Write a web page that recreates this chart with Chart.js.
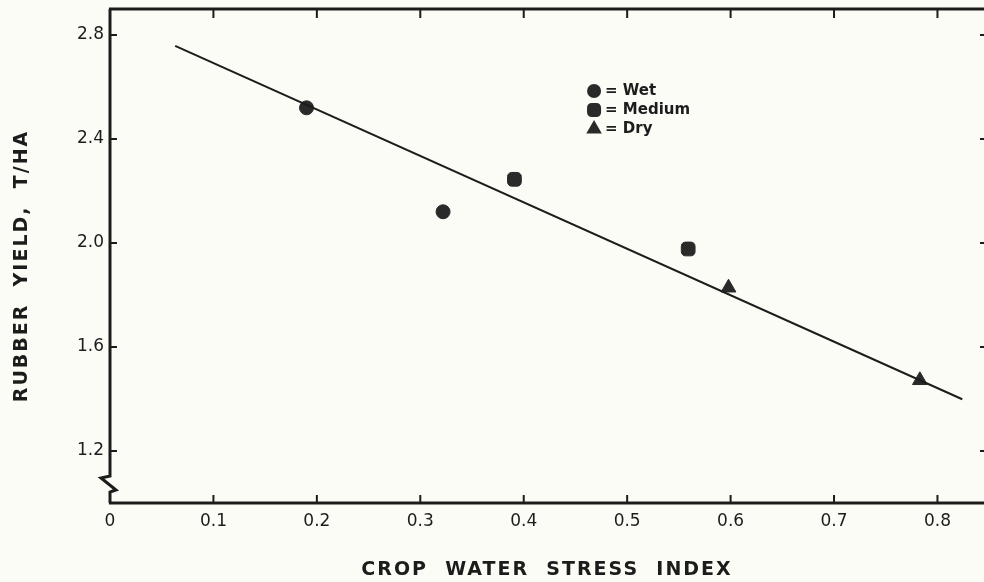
<!DOCTYPE html>
<html>
<head>
<meta charset="utf-8">
<script src="https://cdn.jsdelivr.net/npm/chart.js@4.4.0/dist/chart.umd.min.js"></script>
<style>
  html, body { margin: 0; padding: 0; background: #fcfcf6; }
  #wrap { width: 984px; height: 582px; }
</style>
</head>
<body>
<div id="wrap"><canvas id="chart" width="984" height="582"></canvas></div>
<script>
// values
const xTicks = [0, 0.1, 0.2, 0.3, 0.4, 0.5, 0.6, 0.7, 0.8]
const yTicks = [1.2, 1.6, 2.0, 2.4, 2.8]

const wetX = [0.19, 0.322]
const wetY = [2.52, 2.12]
const mediumX = [0.391, 0.559]
const mediumY = [2.245, 1.977]
const dryX = [0.598, 0.783]
const dryY = [1.828, 1.472]
const fitX = [0.063, 0.824]
const fitY = [2.758, 1.399]

const ink = '#1c1c1c'
const font = '"DejaVu Sans", sans-serif'

function pts(xs, ys) {
    return xs.map((x, i) => ({x: x, y: ys[i]}))
}

// frame, inward ticks, axis break, legend and axis titles
const paper = {
    id: 'paper',
    beforeDraw(chart) {
        const ctx = chart.ctx
        ctx.save()
        ctx.fillStyle = '#fcfcf6'
        ctx.fillRect(0, 0, chart.width, chart.height)
        ctx.restore()
    },
    afterDatasetsDraw(chart) {
        const ctx = chart.ctx
        const a = chart.chartArea
        const xs = chart.scales.x
        const ys = chart.scales.y
        ctx.save()
        ctx.strokeStyle = ink
        ctx.lineCap = 'butt'

        // top and bottom lines
        ctx.lineWidth = 3
        ctx.beginPath()
        ctx.moveTo(a.left - 1, a.top)
        ctx.lineTo(a.right, a.top)
        ctx.moveTo(a.left - 1, a.bottom)
        ctx.lineTo(a.right, a.bottom)
        ctx.stroke()

        // left line with break
        ctx.beginPath()
        ctx.moveTo(a.left, a.top)
        ctx.lineTo(a.left, a.bottom - 27)
        ctx.lineTo(a.left - 9, a.bottom - 25)
        ctx.lineTo(a.left + 6, a.bottom - 13)
        ctx.lineTo(a.left, a.bottom - 11)
        ctx.lineTo(a.left, a.bottom)
        ctx.stroke()

        // ticks
        ctx.lineWidth = 2
        ctx.beginPath()
        xTicks.forEach((v) => {
            const px = xs.getPixelForValue(v)
            if (v > 0) {
                ctx.moveTo(px, a.top)
                ctx.lineTo(px, a.top + 9)
                ctx.moveTo(px, a.bottom)
                ctx.lineTo(px, a.bottom - 8)
            }
        })
        yTicks.forEach((v) => {
            const py = ys.getPixelForValue(v)
            ctx.moveTo(a.left, py)
            ctx.lineTo(a.left + 7, py)
            ctx.moveTo(a.right, py)
            ctx.lineTo(a.right - 4, py)
        })
        ctx.stroke()

        // legend
        const lx = xs.getPixelForValue(0.468)
        const rows = [
            {style: 'circle', r: 6, text: '= Wet'},
            {style: 'rectRounded', r: 7, text: '= Medium'},
            {style: 'triangle', r: 7, text: '= Dry'},
        ]
        ctx.font = 'bold 15px ' + font
        ctx.textBaseline = 'middle'
        ctx.textAlign = 'left'
        rows.forEach((row, i) => {
            const ly = a.top + 82 + i * 19
            ctx.fillStyle = '#2a2a2a'
            ctx.strokeStyle = '#2a2a2a'
            Chart.helpers.drawPoint(ctx, {pointStyle: row.style, radius: row.r, rotation: 0, borderWidth: 1}, lx, ly)
            ctx.fillStyle = ink
            ctx.fillText(row.text, lx + 11, ly)
        })

        // axis titles
        ctx.fillStyle = ink
        ctx.font = 'bold 19px ' + font
        ctx.letterSpacing = '2px'
        ctx.textAlign = 'center'
        ctx.textBaseline = 'middle'
        ctx.fillText('CROP  WATER  STRESS  INDEX', (a.left + a.right) / 2, 570)
        ctx.translate(22, (a.top + a.bottom) / 2 + 10)
        ctx.rotate(-Math.PI / 2)
        ctx.fillText('RUBBER  YIELD,  T/HA', 0, 0)
        ctx.restore()
    }
}

new Chart(document.getElementById('chart'), {
    type: 'scatter',
    data: {
        datasets: [
            {
                type: 'line',
                label: 'fit',
                data: pts(fitX, fitY),
                borderColor: ink,
                borderWidth: 2,
                pointRadius: 0,
                fill: false,
                tension: 0,
            },
            {
                label: 'Wet',
                data: pts(wetX, wetY),
                pointStyle: 'circle',
                pointRadius: 7,
                backgroundColor: '#2a2a2a',
                borderColor: '#2a2a2a',
            },
            {
                label: 'Medium',
                data: pts(mediumX, mediumY),
                pointStyle: 'rectRounded',
                pointRadius: 8,
                backgroundColor: '#2a2a2a',
                borderColor: '#2a2a2a',
            },
            {
                label: 'Dry',
                data: pts(dryX, dryY),
                pointStyle: 'triangle',
                pointRadius: 8.5,
                backgroundColor: '#2a2a2a',
                borderColor: '#2a2a2a',
            },
        ]
    },
    options: {
        responsive: false,
        animation: false,
        layout: {autoPadding: false, padding: {top: 9, right: 0, bottom: 0, left: 0}},
        plugins: {
            legend: {display: false},
            tooltip: {enabled: false},
        },
        scales: {
            x: {
                type: 'linear',
                min: 0,
                max: 0.845,
                afterBuildTicks: (s) => { s.ticks = xTicks.map((v) => ({value: v})) },
                afterFit: (s) => { s.height = 79; s.paddingLeft = 0; s.paddingRight = 0 },
                grid: {display: false, drawTicks: false},
                border: {display: false},
                ticks: {
                    padding: 8,
                    color: ink,
                    font: {family: font, size: 17},
                    callback: (v) => v === 0 ? '0' : v.toFixed(1),
                },
            },
            y: {
                type: 'linear',
                min: 1.0,
                max: 2.9,
                afterBuildTicks: (s) => { s.ticks = yTicks.map((v) => ({value: v})) },
                afterFit: (s) => { s.width = 110; s.paddingTop = 0; s.paddingBottom = 0 },
                grid: {display: false, drawTicks: false},
                border: {display: false},
                ticks: {
                    padding: 6,
                    color: ink,
                    font: {family: font, size: 17},
                    callback: (v) => v.toFixed(1),
                },
            },
        },
    },
    plugins: [paper],
})
</script>
</body>
</html>
